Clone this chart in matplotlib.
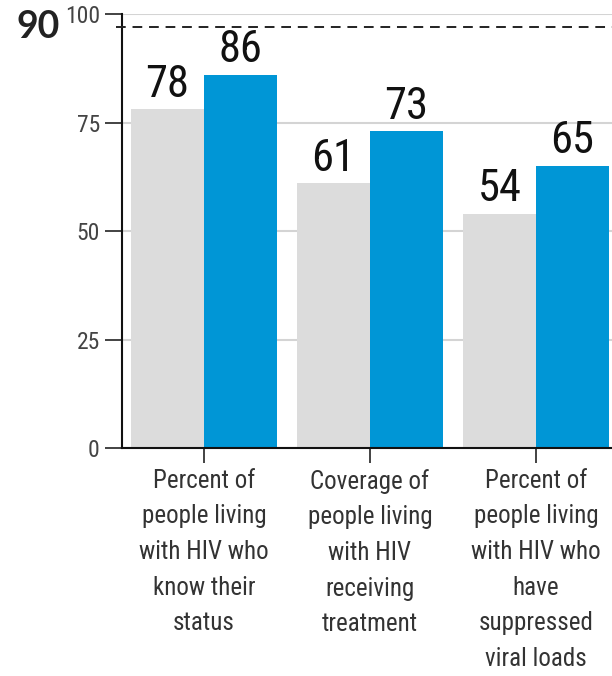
import matplotlib
matplotlib.use("Agg")
import matplotlib.pyplot as plt
from matplotlib import font_manager as fm
import numpy as np

categories = [
    "Percent of\npeople living\nwith HIV who\nknow their\nstatus",
    "Coverage of\npeople living\nwith HIV\nreceiving\ntreatment",
    "Percent of\npeople living\nwith HIV who\nhave\nsuppressed\nviral loads",
]
series_gray = [78, 61, 54]
series_blue = [86, 73, 65]
y_ticks = [0, 25, 50, 75, 100]
target_line = 97
target_label = "90"

names = {f.name for f in fm.fontManager.ttflist}
cond = None
for cand in ["Liberation Sans Narrow", "DejaVu Sans Condensed", "Roboto Condensed", "Open Sans Condensed"]:
    if cand in names:
        cond = cand
        break
cond_kw = {"family": cond} if cond else {"family": "DejaVu Sans", "stretch": "condensed"}

GRAY = "#dcdcdc"
BLUE = "#0096d6"
TXT = "#333333"

fig = plt.figure(figsize=(6.12, 6.76), dpi=100)
ax = fig.add_axes([122/612, 1 - 448/676, 1 - 122/612, (448 - 14)/676])

x = np.arange(len(categories))
w = 0.44
ax.bar(x - w/2, series_gray, width=w, color=GRAY, zorder=2)
ax.bar(x + w/2, series_blue, width=w, color=BLUE, zorder=2)

for xi, v in zip(x - w/2, series_gray):
    ax.annotate(str(v), (xi, v), xytext=(0, 9), textcoords="offset points",
                ha="center", va="baseline", fontsize=32, color="#111111", **cond_kw)
for xi, v in zip(x + w/2, series_blue):
    ax.annotate(str(v), (xi, v), xytext=(0, 9), textcoords="offset points",
                ha="center", va="baseline", fontsize=32, color="#111111", **cond_kw)

ax.set_xlim(-0.494, 2.458)
ax.set_ylim(0, 100)
ax.set_yticks(y_ticks)
ax.set_yticklabels([str(t) for t in y_ticks], fontsize=17, color="#444444", **cond_kw)
ax.set_xticks(x)
ax.set_xticklabels(categories, fontsize=18, color=TXT, linespacing=1.61, **cond_kw)
ax.tick_params(axis="y", length=12, width=1.2, color="#222222", pad=4)
ax.tick_params(axis="x", length=11, width=1.2, color="#222222", pad=4)

ax.yaxis.grid(True, color="#d4d4d4", linewidth=1.5, zorder=0)
ax.set_axisbelow(True)
for s in ["top", "right"]:
    ax.spines[s].set_visible(False)
for s in ["left", "bottom"]:
    ax.spines[s].set_color("#111111")
    ax.spines[s].set_linewidth(1.5)

ax.plot([-0.012, 1.0], [target_line, target_line], transform=ax.get_yaxis_transform(),
        color="#222222", linestyle=(0, (5, 3.5)), linewidth=1.4, clip_on=False, zorder=3)

fig.text(38/612, 1 - 27/676, target_label, ha="center", va="center", fontsize=27,
         fontweight="bold", color="#222222", family="Lato")

fig.savefig("out.png", dpi=100)
